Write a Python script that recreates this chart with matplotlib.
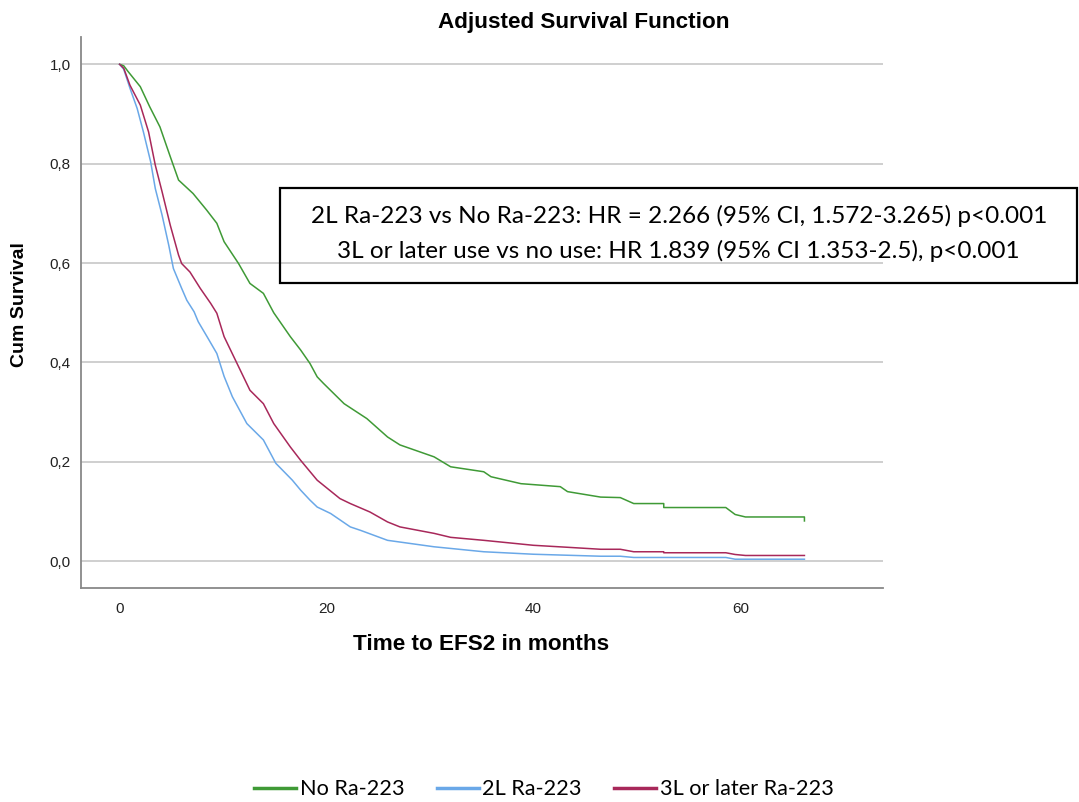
import matplotlib.pyplot as plt
from matplotlib.patches import Rectangle
from matplotlib.lines import Line2D

# months vs cumulative survival
t_none = [0, 0.4, 0.8, 2.0, 2.9, 3.9, 4.9, 5.7, 7.1, 8.4, 9.4, 10.1, 11.5, 12.6, 13.9, 14.9,
          16.5, 17.5, 18.4, 19.1, 19.7, 21.7, 23.9, 25.9, 27.1, 30.4, 32.0, 35.2, 35.9, 38.8,
          42.6, 43.3, 46.5, 48.4, 49.7, 52.6, 52.6, 58.6, 59.5, 60.5, 66.2, 66.2]
s_none = [1.0, 0.997, 0.986, 0.955, 0.915, 0.874, 0.814, 0.767, 0.740, 0.707, 0.680, 0.643,
          0.599, 0.559, 0.539, 0.500, 0.452, 0.425, 0.398, 0.371, 0.358, 0.317, 0.287, 0.250,
          0.234, 0.210, 0.190, 0.180, 0.170, 0.156, 0.150, 0.140, 0.129, 0.128, 0.116, 0.116,
          0.108, 0.108, 0.094, 0.089, 0.089, 0.081]

t_2l = [0, 0.4, 1.0, 1.7, 2.3, 3.0, 3.45, 4.1, 4.75, 5.2, 6.0, 6.5, 7.2, 7.6, 8.45, 9.4, 10.1,
        10.9, 12.3, 13.9, 15.1, 16.7, 17.5, 18.4, 19.1, 20.4, 22.3, 23.3, 25.9, 30.4, 35.2,
        40.0, 46.5, 48.4, 49.7, 58.6, 59.5, 66.2]
s_2l = [1.0, 0.99, 0.952, 0.911, 0.864, 0.804, 0.750, 0.697, 0.636, 0.589, 0.549, 0.525, 0.502,
        0.482, 0.452, 0.418, 0.372, 0.331, 0.277, 0.244, 0.197, 0.163, 0.143, 0.123, 0.109,
        0.096, 0.069, 0.062, 0.042, 0.029, 0.019, 0.014, 0.010, 0.010, 0.0075, 0.0075, 0.004,
        0.004]

t_3l = [0, 0.4, 1.0, 2.0, 2.8, 3.45, 4.1, 4.9, 5.7, 6.0, 6.8, 7.8, 8.8, 9.4, 10.1, 11.35, 12.6,
        13.9, 14.9, 16.5, 17.5, 19.1, 21.3, 22.3, 24.2, 25.9, 27.1, 30.4, 32.0, 35.2, 40.0,
        43.3, 46.5, 48.4, 49.7, 52.6, 52.6, 58.6, 59.5, 60.5, 66.2]
s_3l = [1.0, 0.992, 0.958, 0.918, 0.864, 0.797, 0.744, 0.676, 0.616, 0.599, 0.582, 0.549, 0.519,
        0.499, 0.452, 0.398, 0.344, 0.317, 0.277, 0.230, 0.203, 0.163, 0.126, 0.116, 0.099,
        0.079, 0.069, 0.056, 0.048, 0.042, 0.032, 0.028, 0.024, 0.024, 0.019, 0.019, 0.017,
        0.017, 0.0135, 0.0115, 0.0115]

labels = ['No Ra-223', '2L Ra-223', '3L or later Ra-223']
colors = ['#3f9a36', '#6aa8e8', '#a8285a']
xticks = [0, 20, 40, 60]
yticks = [0.0, 0.2, 0.4, 0.6, 0.8, 1.0]
ytick_labels = ['0,0', '0,2', '0,4', '0,6', '0,8', '1,0']
hr_text = ['2L Ra-223 vs No Ra-223: HR = 2.266 (95% CI, 1.572-3.265) p<0.001',
           '3L or later use vs no use: HR 1.839 (95% CI 1.353-2.5), p<0.001']

plt.rcParams['font.family'] = ['Liberation Sans', 'DejaVu Sans']

fig = plt.figure(figsize=(10.79, 8.02), dpi=100)
ax = fig.add_axes([0.0747, 0.2668, 0.7437, 0.6871])

for tt, ss, c in zip([t_none, t_2l, t_3l], [s_none, s_2l, s_3l], colors):
    ax.plot(tt, ss, color=c, lw=1.1, zorder=3)

ax.set_xlim(-3.77, 73.8)
ax.set_ylim(-0.054, 1.055)
ax.set_xticks(xticks)
ax.set_yticks(yticks)
ax.set_yticklabels(ytick_labels)
ax.tick_params(length=0, labelsize=11, colors='#222222')
ax.tick_params(axis='y', pad=7)
ax.tick_params(axis='x', pad=10)
ax.grid(axis='y', color='#cccccc', lw=1.3)
ax.set_axisbelow(True)
for s in ['top', 'right']:
    ax.spines[s].set_visible(False)
for s in ['left', 'bottom']:
    ax.spines[s].set_color('#888888')
    ax.spines[s].set_linewidth(1.3)

fig.text(0.541, 0.972, 'Adjusted Survival Function', ha='center', va='center',
         fontsize=16.2, fontweight='bold')
fig.text(0.446, 0.196, 'Time to EFS2 in months', ha='center', va='center',
         fontsize=16.2, fontweight='bold')
fig.text(0.0185, 0.62, 'Cum Survival', ha='center', va='center', rotation=90,
         fontsize=14, fontweight='bold')

# hazard ratio box
fig.add_artist(Rectangle((280 / 1079, 1 - 283 / 802), 797 / 1079, 95 / 802,
                         transform=fig.transFigure, fill=False, ec='black', lw=1.6))
fig.text(0.629, 1 - 216 / 802, hr_text[0], ha='center', va='center', fontsize=17.5,
         family=['Lato', 'DejaVu Sans'])
fig.text(0.629, 1 - 251 / 802, hr_text[1], ha='center', va='center', fontsize=17.5,
         family=['Lato', 'DejaVu Sans'])

handles = [Line2D([], [], color=c, lw=2.5) for c in colors]
fig.legend(handles, labels, loc='center', bbox_to_anchor=(0.504, 0.016), ncol=3,
           frameon=False, handlelength=1.95, handletextpad=0.15, columnspacing=1.5,
           prop={'family': ['Lato', 'DejaVu Sans'], 'size': 15.6})

fig.savefig('out.png', dpi=100)
